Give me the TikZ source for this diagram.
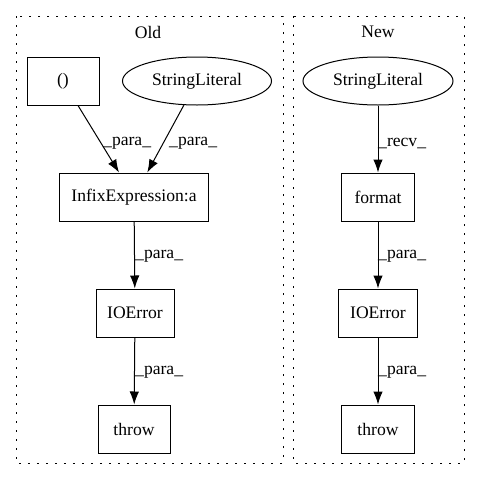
\documentclass[tikz,border=0pt]{standalone}
\usepackage{fontspec}
\setmainfont{Liberation Serif}
\usetikzlibrary{arrows.meta,shapes.geometric}
\begin{document}
\begin{tikzpicture}[x=1pt,y=-1pt,
  every node/.style={font=\fontsize{17.6}{20}\selectfont, inner sep=0pt},
  box/.style={draw, line width=1pt, rectangle, minimum height=48pt},
  oval/.style={draw, line width=1pt, ellipse, minimum width=149pt, minimum height=48pt},
  cluster/.style={draw, line width=1pt, dash pattern=on 1.6pt off 7.4pt},
  edge/.style={draw, line width=1pt, -{Latex[length=13pt,width=9.5pt]}},
  elabel/.style={anchor=west}]
\useasboundingbox (0,0) rectangle (480,480);
% clusters
\draw[cluster] (16,16) rectangle (283,463);
\draw[cluster] (293,16) rectangle (464,463);
\node (oldlab) at (148,32) {Old};
\node (newlab) at (378,32) {New};
% old nodes
\node[box, minimum width=72pt] (oparen) at (63,81) {()};
\node[oval] (osl) at (197,81) {StringLiteral};
\node[box, minimum width=149pt] (oinfix) at (134,197) {InfixExpression:a};
\node[box, minimum width=78pt] (oioe) at (135,313) {IOError};
\node[box, minimum width=72pt] (othrow) at (134,429) {throw};
% new nodes
\node[oval, minimum width=150pt] (nsl) at (378,81) {StringLiteral};
\node[box, minimum width=73pt] (nfmt) at (378,197) {format};
\node[box, minimum width=79pt] (nioe) at (378,313) {IOError};
\node[box, minimum width=73pt] (nthrow) at (378,429) {throw};
% old edges
\draw[edge] (oparen) -- (oinfix);
\draw[edge] (osl) -- (oinfix);
\draw[edge] (oinfix) -- (oioe);
\draw[edge] (oioe) -- (othrow);
\node[elabel] (l1) at (103,143) {\_para\_};
\node[elabel] (l2) at (169,143) {\_para\_};
\node[elabel] (l3) at (135,256) {\_para\_};
\node[elabel] (l4) at (135,372) {\_para\_};
% new edges
\draw[edge] (nsl) -- (nfmt);
\draw[edge] (nfmt) -- (nioe);
\draw[edge] (nioe) -- (nthrow);
\node[elabel] (l5) at (378,143) {\_recv\_};
\node[elabel] (l6) at (378,256) {\_para\_};
\node[elabel] (l7) at (378,372) {\_para\_};
\end{tikzpicture}
\end{document}
